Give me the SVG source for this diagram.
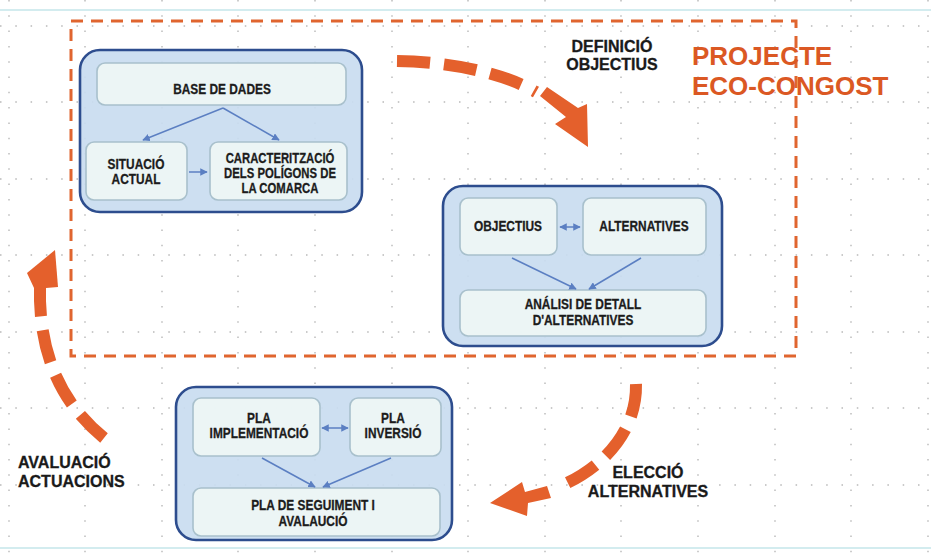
<svg xmlns="http://www.w3.org/2000/svg" width="931" height="553" viewBox="0 0 931 553">
<style>
.grid line{stroke:#9c9c9c;stroke-width:1.4;stroke-dasharray:1.5 13.8;opacity:0.7}
.outer{fill:#c9dcf0;fill-opacity:0.92;stroke:#2d4d8e;stroke-width:2.6}
.inner{fill:#eef6f5;fill-opacity:0.93;stroke:#a8c0cc;stroke-width:1.6}
.n{font-family:"Liberation Sans",Arial,sans-serif;font-weight:bold;font-size:14.5px;fill:#1c1c1c;stroke:#1c1c1c;stroke-width:0.3;text-anchor:middle}
.lbl{font-family:"Liberation Sans",Arial,sans-serif;font-weight:bold;font-size:16px;fill:#1a1a1a;stroke:#1a1a1a;stroke-width:0.3}
.title{font-family:"Liberation Sans",Arial,sans-serif;font-weight:bold;font-size:26px;fill:#db5823}
.conn line{stroke:#5b7fc2;stroke-width:1.5}
.big{fill:none;stroke:#e4602c;stroke-width:12;stroke-dasharray:33 14}
.head{fill:#e4602c}
</style>
<defs>
<marker id="ah" viewBox="0 0 10 10" refX="9" refY="5" markerWidth="5" markerHeight="5" orient="auto-start-reverse">
<path d="M0,0 L10,5 L0,10 z" fill="#5b7fc2"/>
</marker>
</defs>
<rect width="931" height="553" fill="#ffffff"/>
<line x1="0" y1="10" x2="931" y2="10" stroke="#d3ecef" stroke-width="2"/>
<line x1="0" y1="548" x2="931" y2="548" stroke="#d3ecef" stroke-width="2"/>
<g class="grid">
<line x1="9" y1="0" x2="9" y2="553"/><line x1="85" y1="0" x2="85" y2="553"/><line x1="162" y1="0" x2="162" y2="553"/><line x1="238" y1="0" x2="238" y2="553"/><line x1="315" y1="0" x2="315" y2="553"/><line x1="392" y1="0" x2="392" y2="553"/><line x1="468" y1="0" x2="468" y2="553"/><line x1="545" y1="0" x2="545" y2="553"/><line x1="621" y1="0" x2="621" y2="553"/><line x1="698" y1="0" x2="698" y2="553"/><line x1="775" y1="0" x2="775" y2="553"/><line x1="851" y1="0" x2="851" y2="553"/><line x1="928" y1="0" x2="928" y2="553"/>
<line x1="0" y1="26" x2="931" y2="26"/><line x1="0" y1="102" x2="931" y2="102"/><line x1="0" y1="179" x2="931" y2="179"/><line x1="0" y1="255" x2="931" y2="255"/><line x1="0" y1="332" x2="931" y2="332"/><line x1="0" y1="408" x2="931" y2="408"/><line x1="0" y1="485" x2="931" y2="485"/>
</g>
<rect x="71" y="21" width="725" height="335" fill="none" stroke="#e0652f" stroke-width="3" stroke-dasharray="12 8"/>

<g id="group-bd">
<rect class="outer" x="80" y="50" width="282" height="162" rx="20"/>
</g>
<g id="base-dades"><rect class="inner" x="97" y="63" width="249" height="42" rx="8"/>
<text class="n" transform="translate(222,94) scale(0.82,1)">BASE DE DADES</text></g>
<g id="situacio"><rect class="inner" x="86" y="142" width="101" height="58" rx="8"/>
<text class="n" transform="translate(136,169) scale(0.82,1)"><tspan x="0" y="0">SITUACIÓ</tspan><tspan x="0" y="15">ACTUAL</tspan></text></g>
<g id="caracteritzacio"><rect class="inner" x="210" y="142" width="137" height="58" rx="8"/>
<text class="n" transform="translate(280,163) scale(0.78,1)"><tspan x="0" y="0">CARACTERITZACIÓ</tspan><tspan x="0" y="15">DELS POLÍGONS DE</tspan><tspan x="0" y="30">LA COMARCA</tspan></text></g>

<g id="group-def">
<rect class="outer" x="443" y="186" width="279" height="160" rx="20"/>
</g>
<g id="objectius"><rect class="inner" x="460" y="198" width="97" height="57" rx="8"/>
<text class="n" transform="translate(508,231) scale(0.82,1)">OBJECTIUS</text></g>
<g id="alternatives"><rect class="inner" x="583" y="198" width="123" height="57" rx="8"/>
<text class="n" transform="translate(644,231) scale(0.82,1)">ALTERNATIVES</text></g>
<g id="analisi"><rect class="inner" x="460" y="290" width="246" height="46" rx="8"/>
<text class="n" transform="translate(583,309) scale(0.82,1)"><tspan x="0" y="0">ANÁLISI DE DETALL</tspan><tspan x="0" y="16">D'ALTERNATIVES</tspan></text></g>

<g id="group-pla">
<rect class="outer" x="176" y="387" width="276" height="153" rx="20"/>
</g>
<g id="pla-impl"><rect class="inner" x="193" y="398" width="127" height="58" rx="8"/>
<text class="n" transform="translate(259,423) scale(0.82,1)"><tspan x="0" y="0">PLA</tspan><tspan x="0" y="15">IMPLEMENTACIÓ</tspan></text></g>
<g id="pla-inv"><rect class="inner" x="350" y="398" width="91" height="58" rx="8"/>
<text class="n" transform="translate(393,423) scale(0.82,1)"><tspan x="0" y="0">PLA</tspan><tspan x="0" y="15">INVERSIÓ</tspan></text></g>
<g id="pla-seg"><rect class="inner" x="193" y="488" width="247" height="48" rx="8"/>
<text class="n" transform="translate(313,510) scale(0.82,1)"><tspan x="0" y="0">PLA DE SEGUIMENT I</tspan><tspan x="0" y="16">AVALAUCIÓ</tspan></text></g>

<g class="conn">
<line x1="223" y1="108" x2="143" y2="140" marker-end="url(#ah)"/>
<line x1="223" y1="108" x2="279" y2="140" marker-end="url(#ah)"/>
<line x1="189" y1="172" x2="207" y2="172" marker-end="url(#ah)"/>
<line x1="560" y1="227" x2="580" y2="227" marker-start="url(#ah)" marker-end="url(#ah)"/>
<line x1="512" y1="258" x2="576" y2="289" marker-end="url(#ah)"/>
<line x1="641" y1="258" x2="589" y2="289" marker-end="url(#ah)"/>
<line x1="322" y1="428" x2="348" y2="428" marker-start="url(#ah)" marker-end="url(#ah)"/>
<line x1="262" y1="458" x2="315" y2="487" marker-end="url(#ah)"/>
<line x1="391" y1="458" x2="323" y2="487" marker-end="url(#ah)"/>
</g>

<g id="flow-arrows">
<path class="big" d="M397,61 C455,62 505,74 536,92"/>
<polygon class="head" points="540,96 547,87 578,108 587,104 588,147 555,124 566,117"/>
<path class="big" d="M636,384 C637,430 605,468 556,488"/>
<polygon class="head" points="490,503 522,482 525,492 547,486 551,498 528,503 527,516"/>
<path class="big" d="M104,438 C62,404 38,355 40,285"/>
<polygon class="head" points="34,288 27,273 55,250 58,287 46,288"/>
</g>

<g id="labels">
<text class="lbl" x="612" y="52" text-anchor="middle">DEFINICIÓ</text>
<text class="lbl" x="612" y="70" text-anchor="middle">OBJECTIUS</text>
<text class="title" x="692" y="65">PROJECTE</text>
<text class="title" x="692" y="95">ECO-CONGOST</text>
<text class="lbl" x="18" y="468">AVALUACIÓ</text>
<text class="lbl" x="18" y="487">ACTUACIONS</text>
<text class="lbl" x="648" y="478" text-anchor="middle">ELECCIÓ</text>
<text class="lbl" x="648" y="497" text-anchor="middle">ALTERNATIVES</text>
</g>
</svg>
